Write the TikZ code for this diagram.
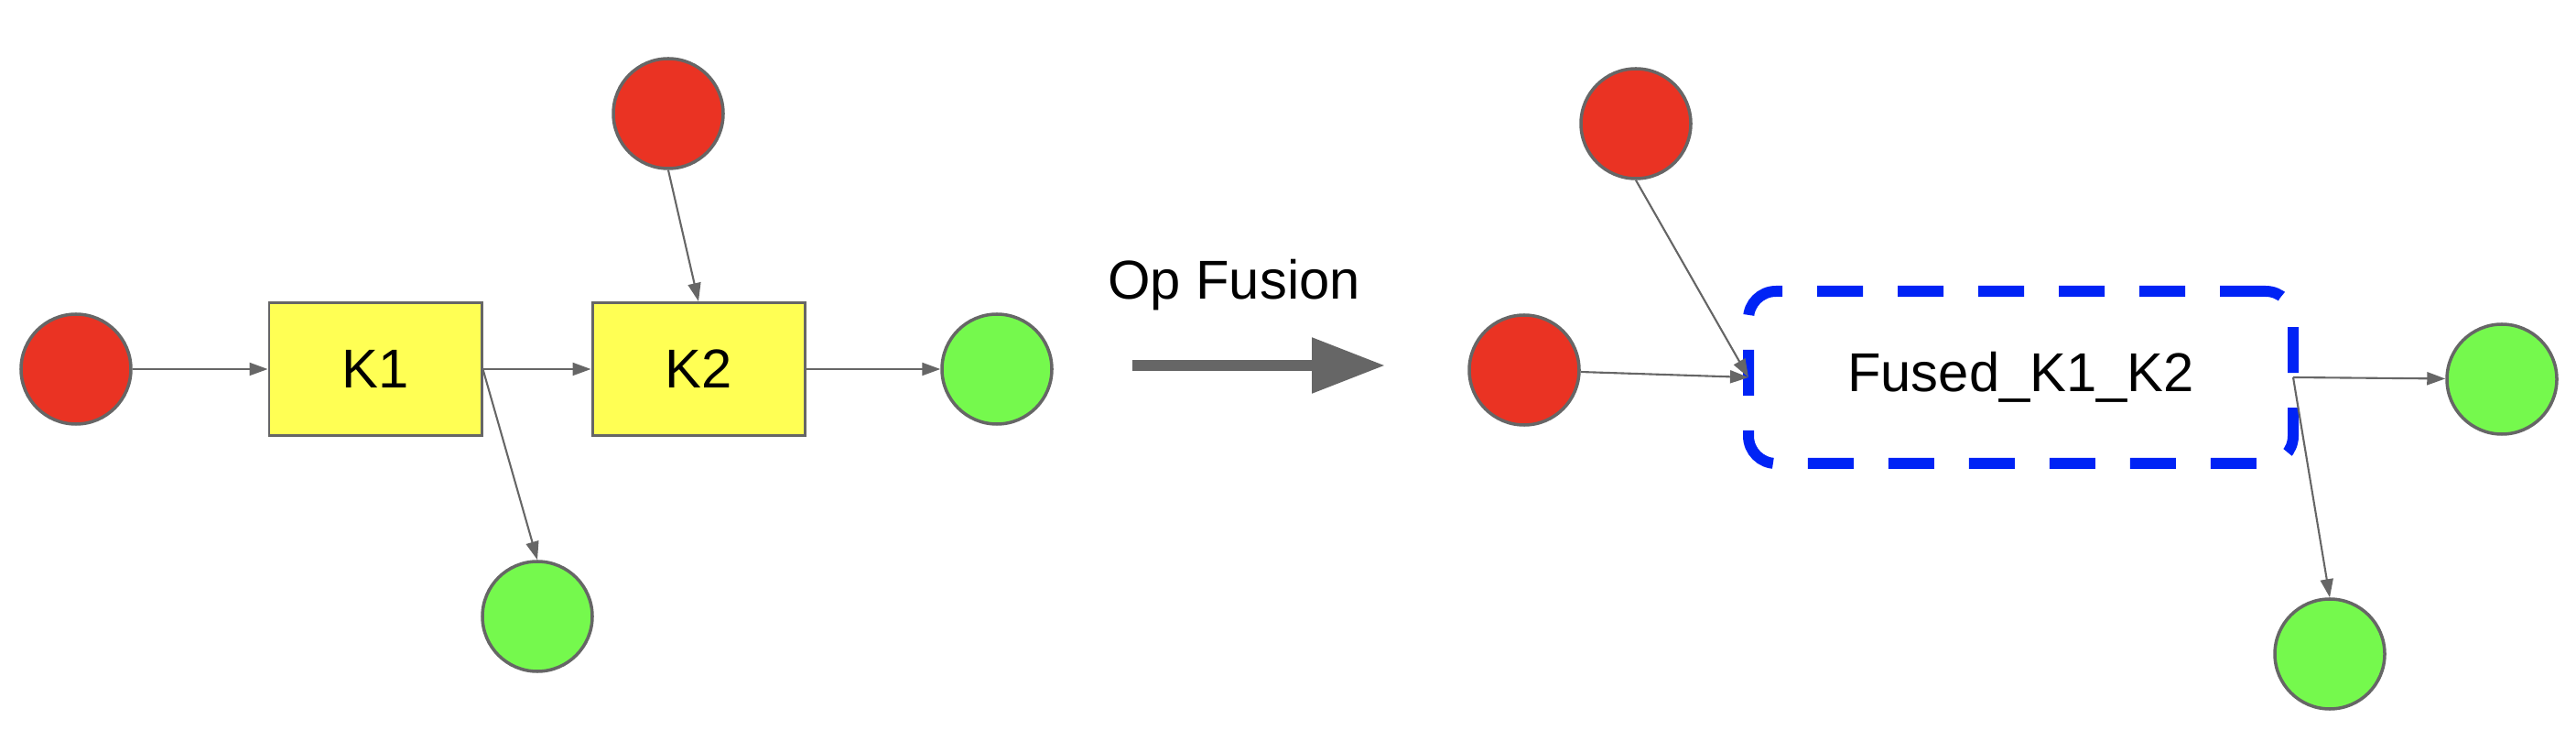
\documentclass[tikz,border=0pt]{standalone}
\usepackage{fontspec}
\setmainfont{Liberation Sans}
\usetikzlibrary{arrows.meta, positioning}
\definecolor{inred}{RGB}{234,51,35}
\definecolor{outgreen}{RGB}{117,249,77}
\definecolor{kyellow}{RGB}{255,255,84}
\definecolor{fuseblue}{RGB}{0,35,245}
\definecolor{edgegray}{RGB}{102,102,102}

\begin{document}
\begin{tikzpicture}
\tikzset{io/.style={circle, draw=edgegray, line width=1pt, minimum size=1.2cm, inner sep=0pt},
src/.style={io, fill=inred}, dst/.style={io, fill=outgreen},
k/.style={rectangle, draw=edgegray, line width=0.85pt, fill=kyellow, minimum width=2.32cm, minimum height=1.45cm, inner sep=0pt, font=\fontsize{17}{20}\selectfont},
fz/.style={rectangle, rounded corners=0.3cm, draw=fuseblue, line width=0.12cm, dash pattern=on 0.5cm off 0.38cm, minimum width=5.95cm, minimum height=1.88cm, inner sep=0pt, outer sep=0pt, font=\fontsize{17}{20}\selectfont},
f/.style={-{Triangle[length=0.2cm, width=0.14cm]}, draw=edgegray, fill=edgegray, line width=0.6pt},
big/.style={-{Triangle[length=0.8cm, width=0.58cm]}, draw=edgegray, fill=edgegray, line width=0.12cm}};

\useasboundingbox (0,0) rectangle (28.14,8.08);

% before fusion
\node[src] (a) at (0.83, 4.05) {};
\node[k, right of=a, node distance=3.27cm] (k1) {K1};
\node[k, right of=k1, node distance=3.53cm] (k2) {K2};
\node[dst, right of=k2, node distance=3.26cm] (b) {};
\node[src] (c) at (7.30, 6.84) {};
\node[dst] (d) at (5.87, 1.35) {};

\foreach \x/\y in {a/k1, k1/k2, k2/b, c.south/k2.north, k1.east/d.north} {
	\draw[f] (\x) -- (\y);
}

% fusion arrow
\coordinate (fs) at (12.37, 4.09);
\coordinate (fe) at (15.13, 4.09);
\draw[big] (fs) -- (fe);
\node[anchor=base, font=\fontsize{17}{20}\selectfont] (op) at (13.48, 4.81) {Op Fusion};

% after fusion
\node[fz] (fused) at (22.075, 3.96) {Fused\_K1\_K2};
\node[src] (e) at (17.87, 6.73) {};
\node[src] (g) at (16.65, 4.04) {};
\node[dst] (h) at (27.33, 3.94) {};
\node[dst] (i) at (25.45, 0.94) {};

\foreach \x/\y in {e.south/fused.west, g/fused.west, fused.east/h, fused.east/i.north} {
	\draw[f] (\x) -- (\y);
}

\end{tikzpicture}
\end{document}
